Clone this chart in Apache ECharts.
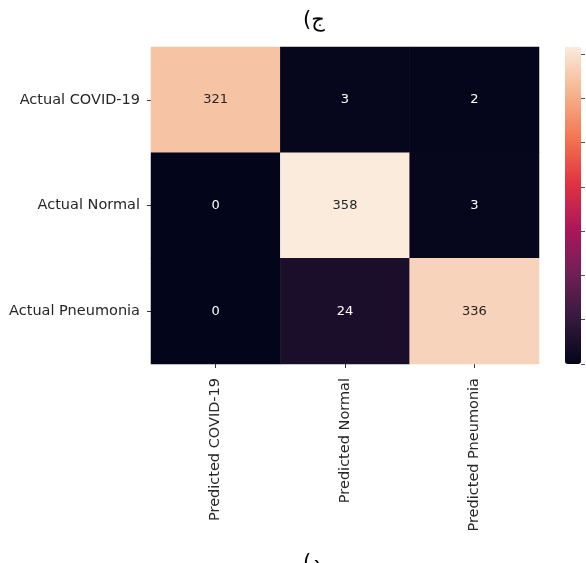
<!DOCTYPE html>
<html>
<head>
<meta charset="utf-8">
<script src="https://cdn.jsdelivr.net/npm/echarts@6/dist/echarts.min.js"></script>
<style>
  html, body { margin: 0; padding: 0; background: #ffffff; }
  #chart { width: 586px; height: 563px; }
</style>
</head>
<body>
<div id="chart"></div>
<script>
// Confusion matrix: rows = actual class, columns = predicted class
const actualLabels = ['Actual COVID-19', 'Actual Normal', 'Actual Pneumonia'];
const predictedLabels = ['Predicted COVID-19', 'Predicted Normal', 'Predicted Pneumonia'];
const rowCovid = [321, 3, 2];
const rowNormal = [0, 358, 3];
const rowPneumonia = [0, 24, 336];
const colorbarTicks = [0, 50, 100, 150, 200, 250, 300, 350];

// "rocket" colour ramp, dark to light
const rocket = ['#03051a', '#35193e', '#701f57', '#ad1759', '#e13342', '#f37651', '#f6b48f', '#faebdd'];

const rows = [rowCovid, rowNormal, rowPneumonia];
const allValues = rows.flat();
const vMin = Math.min(...allValues);
const vMax = Math.max(...allValues);

const cells = [];
rows.forEach((row, r) => {
  row.forEach((v, c) => {
    const frac = (v - vMin) / (vMax - vMin);
    cells.push({
      value: [c, r, v],
      label: { color: frac > 0.6 ? '#262626' : '#ffffff' }
    });
  });
});

// colourbar box; the tick scale spans only up to the last tick value
const CB = { left: 565, top: 47, width: 16, height: 317 };
const tickMax = colorbarTicks[colorbarTicks.length - 1];
const tickTop = CB.top + CB.height * (vMax - tickMax) / (vMax - vMin);
const tickHeight = CB.height * (tickMax - vMin) / (vMax - vMin);

const FONT = 'DejaVu Sans';
const chart = echarts.init(document.getElementById('chart'), null, { renderer: 'canvas' });

chart.setOption({
  backgroundColor: '#ffffff',
  animation: false,
  grid: [
    { left: 151, top: 47, width: 388, height: 317 },
    { left: CB.left, top: tickTop, width: CB.width, height: tickHeight }
  ],
  xAxis: [
    {
      type: 'category', gridIndex: 0, data: predictedLabels, position: 'bottom',
      axisLine: { show: false },
      axisTick: { show: true, alignWithLabel: true, length: 4, lineStyle: { color: '#333333', width: 1 } },
      axisLabel: { rotate: 90, margin: 14, color: '#262626', fontFamily: FONT, fontSize: 14.5 },
      splitLine: { show: false }
    },
    { type: 'value', gridIndex: 1, min: 0, max: 1, show: false }
  ],
  yAxis: [
    {
      type: 'category', gridIndex: 0, data: actualLabels, inverse: true,
      axisLine: { show: false },
      axisTick: { show: true, alignWithLabel: true, length: 4, lineStyle: { color: '#333333', width: 1 } },
      axisLabel: { margin: 11, color: '#262626', fontFamily: FONT, fontSize: 14.5 },
      splitLine: { show: false }
    },
    {
      // colourbar scale; its numbers sit past the right edge of the canvas
      type: 'value', gridIndex: 1, position: 'right',
      min: colorbarTicks[0], max: tickMax, interval: colorbarTicks[1] - colorbarTicks[0],
      axisLine: { show: false, onZero: false },
      axisTick: { show: true, length: 4, lineStyle: { color: '#555555', width: 1 } },
      axisLabel: { show: false },
      splitLine: { show: false }
    }
  ],
  visualMap: {
    type: 'continuous',
    seriesIndex: 0,
    min: vMin, max: vMax,
    calculable: false,
    orient: 'vertical',
    left: CB.left, top: CB.top,
    itemWidth: CB.width, itemHeight: CB.height,
    padding: 0,
    text: null,
    showLabel: false,
    hoverLink: false,
    inRange: { color: rocket }
  },
  series: [
    {
      type: 'heatmap',
      xAxisIndex: 0, yAxisIndex: 0,
      data: cells,
      itemStyle: { borderWidth: 0 },
      label: {
        show: true,
        fontFamily: FONT, fontSize: 13,
        formatter: p => String(p.value[2])
      },
      emphasis: { disabled: true }
    },
    {
      // binds the colourbar scale so its ticks are laid out
      type: 'line', name: 'colorbar',
      xAxisIndex: 1, yAxisIndex: 1,
      data: [],
      silent: true
    }
  ],
  graphic: [
    {
      type: 'text', left: 303, top: 10,
      style: { text: '(ج', fontFamily: FONT, fontSize: 21, fill: '#000000' }
    },
    {
      type: 'text', left: 303, top: 553,
      style: { text: '(د', fontFamily: FONT, fontSize: 21, fill: '#000000' }
    }
  ]
});
</script>
</body>
</html>
